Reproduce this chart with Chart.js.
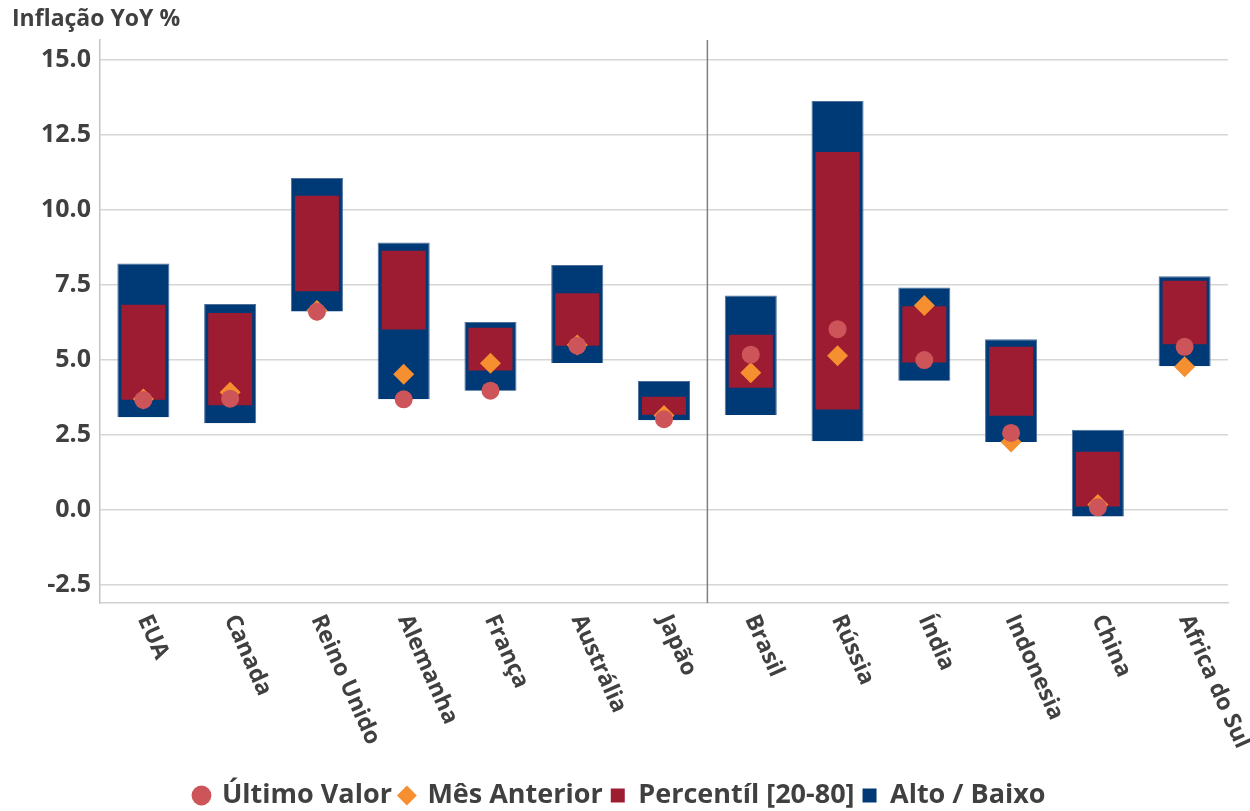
<!DOCTYPE html>
<html>
<head>
<meta charset="utf-8">
<script src="https://cdn.jsdelivr.net/npm/chart.js"></script>
<style>
    html, body { margin: 0; padding: 0; background: #fff; }
    #wrap { width: 1250px; height: 811px; }
</style>
</head>
<body>
<div id="wrap"><canvas id="chartInflacao"></canvas></div>
<script>
// ---------- DADOS ----------
var paises = ["EUA", "Canada", "Reino Unido", "Alemanha", "França", "Austrália", "Japão",
    "Brasil", "Rússia", "Índia", "Indonesia", "China", "Africa do Sul"];
var ultimoValor = [3.67, 3.71, 6.61, 3.69, 3.98, 5.48, 3.03, 5.18, 6.03, 5.00, 2.57, 0.09, 5.44];
var mesAnterior = [3.70, 3.93, 6.65, 4.53, 4.89, 5.50, 3.15, 4.58, 5.14, 6.82, 2.27, 0.18, 4.78];
var percentil20 = [3.68, 3.49, 7.29, 6.02, 4.65, 5.48, 3.18, 4.08, 3.35, 4.92, 3.14, 0.12, 5.53];
var percentil80 = [6.84, 6.57, 10.48, 8.64, 6.08, 7.23, 3.78, 5.84, 11.94, 6.79, 5.44, 1.94, 7.64];
var baixo = [3.09, 2.89, 6.62, 3.69, 3.98, 4.90, 2.99, 3.17, 2.29, 4.31, 2.27, -0.22, 4.79];
var alto = [8.22, 6.87, 11.07, 8.92, 6.27, 8.17, 4.30, 7.15, 13.64, 7.42, 5.69, 2.68, 7.79];
var yTicks = [-2.5, 0, 2.5, 5, 7.5, 10, 12.5, 15];
var nDesenvolvidos = 7; // linha vertical separa desenvolvidos / emergentes

var corTexto = "#404040";
var fonte = "'Open Sans', 'Noto Sans', sans-serif";

// faixas [baixo, alto]
var faixaAltoBaixo = paises.map(function (p, i) { return [baixo[i], alto[i]]; });
var faixaPercentil = paises.map(function (p, i) { return [percentil20[i], percentil80[i]]; });

// ---------- PLUGIN: rotulos do eixo x + linha divisoria ----------
var extras = {
    id: "extras",
    afterDatasetsDraw: function (chart) {
        var ctx = chart.ctx;
        var x = chart.scales.x;
        var area = chart.chartArea;
        // linha divisoria
        var xDiv = (x.getPixelForValue(nDesenvolvidos - 1) + x.getPixelForValue(nDesenvolvidos)) / 2;
        ctx.save();
        ctx.strokeStyle = "#808080";
        ctx.lineWidth = 1.5;
        ctx.beginPath();
        ctx.moveTo(xDiv, area.top);
        ctx.lineTo(xDiv, area.bottom);
        ctx.stroke();
        ctx.restore();
    },
    afterDraw: function (chart) {
        var ctx = chart.ctx;
        var x = chart.scales.x;
        var area = chart.chartArea;
        ctx.save();
        ctx.fillStyle = corTexto;
        ctx.font = "bold 23px " + fonte;
        ctx.textAlign = "left";
        ctx.textBaseline = "middle";
        paises.forEach(function (p, i) {
            ctx.save();
            ctx.translate(x.getPixelForValue(i), area.bottom + 13);
            ctx.rotate(66 * Math.PI / 180);
            ctx.fillText(p, 0, 0);
            ctx.restore();
        });
        ctx.restore();
    }
};

// ---------- CHART ----------
var ctx = document.getElementById("chartInflacao");
new Chart(ctx, {
    data: {
        labels: paises,
        datasets: [{
            type: "line",
            label: "Último Valor",
            data: ultimoValor,
            showLine: false,
            pointStyle: "circle",
            pointRadius: 9,
            pointHoverRadius: 9,
            pointBackgroundColor: "#CD555A",
            pointBorderWidth: 0,
            backgroundColor: "#CD555A",
            borderColor: "#CD555A",
            order: 1
        },
        {
            type: "line",
            label: "Mês Anterior",
            data: mesAnterior,
            showLine: false,
            pointStyle: "rectRot",
            pointRadius: 10.5,
            pointHoverRadius: 10.5,
            pointBackgroundColor: "#F68F2F",
            pointBorderWidth: 0,
            backgroundColor: "#F68F2F",
            borderColor: "#F68F2F",
            order: 2
        },
        {
            type: "bar",
            label: "Percentíl [20-80]",
            data: faixaPercentil,
            backgroundColor: "#9D1C32",
            grouped: false,
            categoryPercentage: 1,
            barPercentage: 0.507,
            order: 3
        },
        {
            type: "bar",
            label: "Alto / Baixo",
            data: faixaAltoBaixo,
            backgroundColor: "#003A76",
            borderColor: "#4E6F98",
            borderWidth: 1,
            grouped: false,
            categoryPercentage: 1,
            barPercentage: 0.6,
            order: 4
        }]
    },
    options: {
        responsive: true,
        maintainAspectRatio: false,
        animation: false,
        layout: { padding: { left: 12, right: 22, top: 4, bottom: -8 } },
        scales: {
            x: {
                type: "category",
                grid: { display: false },
                border: { display: true, color: "#D0D0D0", width: 1.5 },
                ticks: { display: false },
                afterFit: function (scale) { scale.height = 171; }
            },
            y: {
                min: -3.1,
                max: 15.67,
                afterBuildTicks: function (scale) {
                    scale.ticks = yTicks.map(function (v) { return { value: v }; });
                },
                afterFit: function (scale) { scale.width = 88; },
                grid: { color: "#D6D6D6", lineWidth: 1.5, drawTicks: false },
                border: { display: true, color: "#C4C4C4", width: 1.5 },
                ticks: {
                    padding: 9,
                    color: corTexto,
                    font: { family: fonte, size: 25, weight: "bold" },
                    callback: function (v) { return Number(v).toFixed(1); }
                }
            }
        },
        plugins: {
            title: {
                display: true,
                text: "Inflação YoY %",
                align: "start",
                color: corTexto,
                font: { family: fonte, size: 23, weight: "bold" },
                padding: { top: 2, bottom: 6.4 }
            },
            legend: {
                position: "bottom",
                labels: {
                    usePointStyle: true,
                    boxWidth: 14,
                    boxHeight: 14,
                    padding: 8,
                    color: corTexto,
                    font: { family: fonte, size: 27, weight: "bold" },
                    generateLabels: function (chart) {
                        var estilos = ["circle", "rectRot", "rect", "rect"];
                        var cores = ["#CD555A", "#F68F2F", "#9D1C32", "#003A76"];
                        return chart.data.datasets.map(function (ds, i) {
                            return {
                                text: ds.label,
                                fillStyle: cores[i],
                                strokeStyle: cores[i],
                                lineWidth: 0,
                                pointStyle: estilos[i],
                                fontColor: corTexto,
                                datasetIndex: i,
                                hidden: false
                            };
                        });
                    }
                }
            },
            tooltip: { enabled: false }
        }
    },
    plugins: [extras]
});
</script>
</body>
</html>
